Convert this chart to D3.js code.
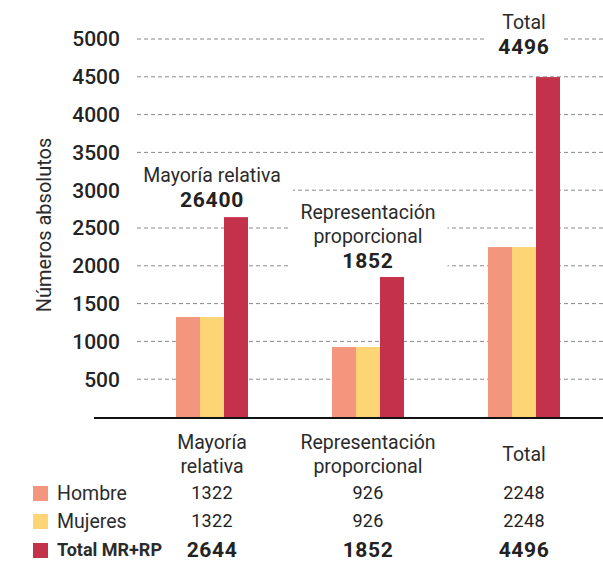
<!DOCTYPE html>
<html>
<head>
<meta charset="utf-8">
<script src="https://cdn.jsdelivr.net/npm/d3@7"></script>
<style>
  body { margin: 0; background: #fff; }
  svg { font-family: Roboto, "Open Sans", sans-serif; }
</style>
</head>
<body>
<svg id="chart" width="603" height="562"></svg>
<script>
// data
var groups = ["Mayoría relativa", "Representación proporcional", "Total"];
var groupLines = [["Mayoría", "relativa"], ["Representación", "proporcional"], ["Total"]];
var series = ["Hombre", "Mujeres", "Total MR+RP"];
var hombre = [1322, 926, 2248];
var mujeres = [1322, 926, 2248];
var totalMRRP = [2644, 1852, 4496];
var topLabels = ["26400", "1852", "4496"];
var yTicks = [500, 1000, 1500, 2000, 2500, 3000, 3500, 4000, 4500, 5000];
var colors = ["#f4967d", "#fdd574", "#c4314b"];

var values = [hombre, mujeres, totalMRRP];
var svg = d3.select("#chart");

var y = d3.scaleLinear().domain([0, 5000]).range([417, 39]);
var x = d3.scalePoint().domain(groups).range([212, 524]);
var xs = d3.scaleBand().domain(series).range([-36, 36]).padding(0);

// grid
svg.append("g").selectAll("line")
	.data(yTicks)
	.enter().append("line")
	.attr("x1", 137).attr("x2", 603)
	.attr("y1", function(d) { return y(d); })
	.attr("y2", function(d) { return y(d); })
	.attr("stroke", "#8a8a8a")
	.attr("stroke-width", 1)
	.attr("stroke-dasharray", "4,3");

// tick labels
svg.append("g").selectAll("text")
	.data(yTicks)
	.enter().append("text")
	.attr("x", 120)
	.attr("y", function(d) { return y(d); })
	.attr("dy", "0.35em")
	.attr("text-anchor", "end")
	.attr("font-size", 21)
	.attr("font-weight", 500)
	.attr("fill", "#232323")
	.text(function(d) { return d; });

// y title
svg.append("text")
	.attr("transform", "translate(51,225) rotate(-90)")
	.attr("text-anchor", "middle")
	.attr("font-size", 20)
	.attr("fill", "#2b2b2b")
	.text("Números absolutos");

// annotations above bars, with white boxes breaking the grid
var annot = [
	{ lines: ["Mayoría relativa"], y0: 175 },
	{ lines: ["Representación", "proporcional"], y0: 212 },
	{ lines: ["Total"], y0: 22 }
];
annot.forEach(function(a, i) {
	var g = svg.append("g");
	var bg = g.append("rect").attr("fill", "#fff");
	a.lines.forEach(function(t, j) {
		g.append("text")
			.attr("x", x(groups[i]))
			.attr("y", a.y0 + j * 24)
			.attr("dy", "0.35em")
			.attr("text-anchor", "middle")
			.attr("font-size", 19.5)
			.attr("fill", "#2b2b2b")
			.text(t);
	});
	g.append("text")
		.attr("x", x(groups[i]))
		.attr("y", a.y0 + a.lines.length * 24 + 1)
		.attr("dy", "0.35em")
		.attr("text-anchor", "middle")
		.attr("font-size", 21)
		.attr("font-weight", 700)
		.attr("letter-spacing", 0.8)
		.attr("fill", "#222")
		.text(topLabels[i]);
	var bb = g.node().getBBox();
	bg.attr("x", bb.x - 12).attr("y", bb.y - 4)
		.attr("width", bb.width + 24).attr("height", bb.height + 8);
});

// bars
series.forEach(function(s, k) {
	svg.append("g").selectAll("rect")
		.data(values[k])
		.enter().append("rect")
		.attr("x", function(d, i) { return x(groups[i]) + xs(s); })
		.attr("width", xs.bandwidth())
		.attr("y", function(d) { return y(d); })
		.attr("height", function(d) { return y(0) - y(d); })
		.attr("fill", colors[k]);
});

// baseline
svg.append("line")
	.attr("x1", 94).attr("x2", 603)
	.attr("y1", 418).attr("y2", 418)
	.attr("stroke", "#111").attr("stroke-width", 2);

// category labels under axis
groupLines.forEach(function(ls, i) {
	var y0 = ls.length == 1 ? 454 : 442;
	ls.forEach(function(t, j) {
		svg.append("text")
			.attr("x", x(groups[i]))
			.attr("y", y0 + j * 24)
			.attr("dy", "0.35em")
			.attr("text-anchor", "middle")
			.attr("font-size", 19.5)
			.attr("fill", "#2b2b2b")
			.text(t);
	});
});

// legend table
var rowY = [493, 521, 550];
series.forEach(function(s, k) {
	var bold = k == 2;
	svg.append("rect")
		.attr("x", 33).attr("y", rowY[k] - 7)
		.attr("width", 15).attr("height", 15)
		.attr("fill", colors[k]);
	svg.append("text")
		.attr("x", 57).attr("y", rowY[k])
		.attr("dy", "0.35em")
		.attr("font-size", bold ? 18 : 19.5)
		.attr("font-weight", bold ? 700 : 400)
		.attr("fill", "#2b2b2b")
		.text(s);
	svg.append("g").selectAll("text")
		.data(values[k])
		.enter().append("text")
		.attr("x", function(d, i) { return x(groups[i]); })
		.attr("y", rowY[k])
		.attr("dy", "0.35em")
		.attr("text-anchor", "middle")
		.attr("font-size", bold ? 21 : 18)
		.attr("font-weight", bold ? 700 : 400)
		.attr("letter-spacing", bold ? 0.6 : 0.3)
		.attr("fill", "#222")
		.text(function(d) { return d; });
});
</script>
</body>
</html>
